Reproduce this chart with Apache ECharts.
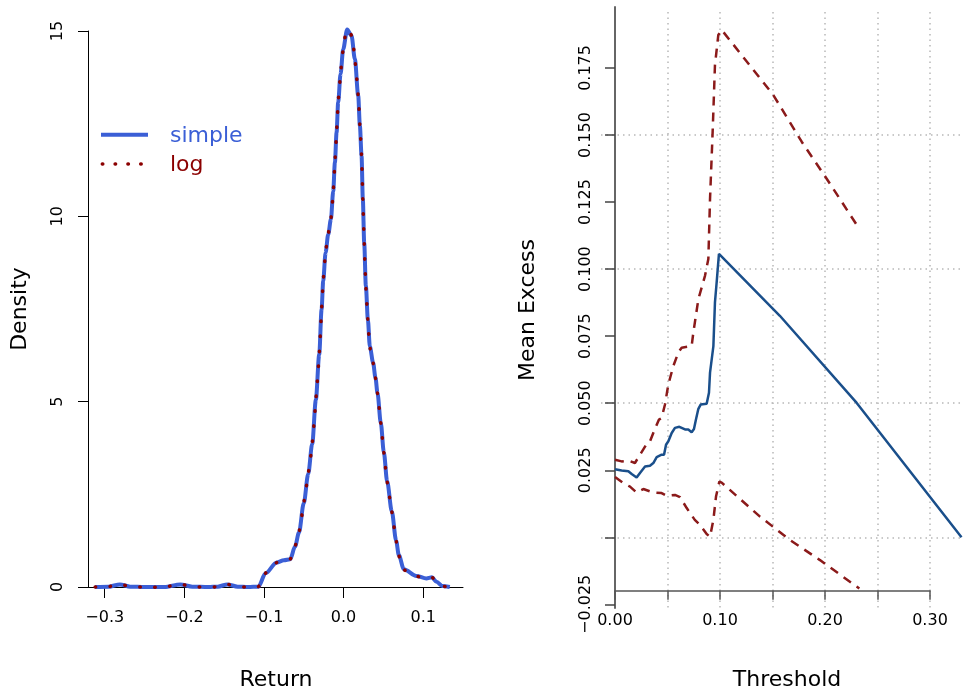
<!DOCTYPE html>
<html>
<head>
<meta charset="utf-8">
<script src="https://cdn.jsdelivr.net/npm/echarts@6/dist/echarts.min.js"></script>
<style>html,body{margin:0;padding:0;background:#fff}#c{width:964px;height:691px}</style>
</head>
<body>
<div id="c"></div>
<script>
// ---- Left panel: density of returns ----
const returnX = [-0.312,-0.295,-0.281,-0.268,-0.25,-0.225,-0.205,-0.19,-0.17,-0.158,-0.146,-0.133,-0.12,-0.107,-0.098,-0.084,-0.075,-0.067,-0.061,-0.056,-0.050,-0.0444,-0.0394,-0.0348,-0.0306,-0.0276,-0.0256,-0.0226,-0.0193,-0.0159,-0.0130,-0.0109,-0.0088,-0.0068,-0.0038,-0.0005,0.0045,0.010,0.0142,0.0184,0.0205,0.0226,0.0242,0.0259,0.028,0.0305,0.033,0.0371,0.0401,0.0426,0.0468,0.0506,0.0547,0.0606,0.066,0.0694,0.0757,0.0915,0.104,0.111,0.1167,0.124,0.1334];
const simpleDensity = [0,0.01,0.07,0.01,0,0,0.07,0.01,0,0.01,0.07,0.01,0,0.01,0.37,0.66,0.72,0.75,1.09,1.47,2.26,3.05,3.86,5.05,6.27,7.49,8.25,9.02,9.51,9.92,10.68,11.45,12.26,13.07,13.84,14.51,15.04,14.87,14.24,13.25,12.44,11.63,10.46,9.29,8.12,7.22,6.49,6.05,5.64,5.23,4.42,3.63,2.85,2.04,1.25,0.86,0.48,0.30,0.23,0.26,0.14,0.03,0];
const logDensity = [0,0.01,0.07,0.01,0,0,0.07,0.01,0,0.01,0.07,0.01,0,0.01,0.37,0.66,0.72,0.75,1.09,1.47,2.26,3.05,3.86,5.05,6.27,7.49,8.25,9.02,9.51,9.92,10.68,11.45,12.26,13.07,13.84,14.51,15.04,14.87,14.24,13.25,12.44,11.63,10.46,9.29,8.12,7.22,6.49,6.05,5.64,5.23,4.42,3.63,2.85,2.04,1.25,0.86,0.48,0.30,0.23,0.26,0.14,0.03,0];
const returnTicks = [-0.3,-0.2,-0.1,0,0.1];
const legendNames = ['simple', 'log'];

// ---- Right panel: mean excess plot ----
const meThreshold = [0,0.0063,0.0127,0.0159,0.0206,0.0238,0.0286,0.0333,0.0365,0.0397,0.0444,0.0467,0.0486,0.0508,0.054,0.0571,0.0613,0.0667,0.0698,0.073,0.0752,0.0771,0.0794,0.0816,0.0873,0.0895,0.0905,0.0937,0.0952,0.0968,0.099,0.157,0.2302,0.330];
const meValue = [0.0254,0.0249,0.0246,0.0236,0.0223,0.0240,0.0264,0.0267,0.0277,0.0299,0.0308,0.0308,0.0345,0.0358,0.0389,0.0408,0.0412,0.0402,0.0402,0.0392,0.0404,0.0439,0.0479,0.0495,0.0498,0.0539,0.0614,0.0713,0.0876,0.095,0.1057,0.0826,0.0501,0.000];
const upThreshold = [0,0.0063,0.0127,0.019,0.0238,0.0308,0.0333,0.0371,0.0419,0.0444,0.0476,0.0508,0.0556,0.0603,0.0635,0.073,0.0746,0.0794,0.0857,0.0889,0.0905,0.093,0.0952,0.0984,0.1016,0.1508,0.1778,0.2016,0.2327];
const upValue = [0.0289,0.0283,0.0286,0.0277,0.0308,0.0352,0.0358,0.0395,0.0439,0.0445,0.0495,0.0570,0.0639,0.0689,0.0707,0.0713,0.0763,0.0888,0.0975,0.1038,0.1262,0.1512,0.1761,0.1873,0.1892,0.1649,0.1475,0.1337,0.115];
const loThreshold = [0,0.0079,0.0143,0.0206,0.027,0.0365,0.0444,0.0492,0.0571,0.0619,0.0683,0.076,0.081,0.0873,0.0905,0.0937,0.0962,0.0994,0.1016,0.1381,0.1667,0.1952,0.2327];
const loValue = [0.0225,0.0202,0.0189,0.0167,0.018,0.0167,0.0165,0.0155,0.0158,0.015,0.0109,0.0065,0.0046,0.0012,0.0002,0.0065,0.0152,0.0208,0.0204,0.0077,-0.001,-0.0085,-0.0191];
const meTicks = [-0.025,0,0.025,0.05,0.075,0.1,0.125,0.15,0.175];
const meLabelTicks = [-0.025,0.025,0.05,0.075,0.1,0.125,0.15,0.175];

const FONT = 'DejaVu Sans';
const BLUE = '#3b5fd6', DARKRED = '#8b0000', ME_BLUE = '#1a4f8b', CI_RED = '#8b1a1a';
const zip = (a, b) => a.map((v, i) => [v, b[i]]);
const minus = s => s.replace('-', '\u2212');
const gridDot = {color: '#b8b8b8', width: 1.5, type: [1.5, 4]};
const txt = (text, x, y, rot, color) => ({type: 'text', x, y, rotation: rot || 0, silent: true,
  style: {text, font: '22px "DejaVu Sans"', fill: color || '#000', align: rot ? 'center' : (color ? 'left' : 'center'), verticalAlign: 'middle'}});

// dotted curve drawn as one continuous polyline so the dot pattern runs along its whole length
function dottedCurve(params, api) {
  if (params.dataIndexInside !== 0) return null;
  const pts = [];
  for (let i = 0; i < params.dataInsideLength; i++) {
    pts.push(api.coord([api.value(0, i), api.value(1, i)]));
  }
  return {type: 'polyline', silent: true, shape: {points: pts, smooth: 0.3},
    style: {stroke: DARKRED, fill: null, lineWidth: 3.5, lineDash: [0.5, 14.5], lineCap: 'round'}};
}

const chart = echarts.init(document.getElementById('c'), null, {renderer: 'canvas'});
chart.setOption({
  animation: false,
  backgroundColor: '#fff',
  grid: [
    {left: 88, top: 31, width: 375, height: 556},            // 0 left density
    {left: 615, top: 7, right: 0, height: 601},               // 1 right data
    {left: 601, top: 135, right: 0, height: 402.3},           // 2 horizontal grid lines
    {left: 667.5, top: 12, width: 262.5, height: 598},        // 3 vertical grid lines
    {left: 615, top: 580, width: 315, height: 10.7}           // 4 threshold axis
  ],
  xAxis: [
    {gridIndex: 0, type: 'value', min: -0.321, max: 0.150,
     axisLine: {show: true, onZero: false, lineStyle: {color: '#000', width: 1}},
     axisTick: {show: true, length: 11, customValues: returnTicks, lineStyle: {color: '#000'}},
     axisLabel: {show: true, customValues: returnTicks, margin: 23, fontSize: 16, fontFamily: FONT, color: '#000',
       formatter: v => minus(Number(v).toFixed(1))},
     splitLine: {show: false}},
    {gridIndex: 1, type: 'value', min: 0, max: 0.33238, show: false},
    {gridIndex: 2, type: 'value', min: 0, max: 1, show: false},
    {gridIndex: 3, type: 'value', min: 0.05, max: 0.30, interval: 0.05,
     axisLine: {show: false}, axisTick: {show: false}, axisLabel: {show: false},
     splitLine: {show: true, lineStyle: gridDot}},
    {gridIndex: 4, type: 'value', min: 0, max: 0.30, interval: 0.05,
     axisLine: {show: true, onZero: false, lineStyle: {color: '#555', width: 1.5}},
     axisTick: {show: true, length: 9, lineStyle: {color: '#555', width: 1.5}},
     axisLabel: {show: true, margin: 22, fontSize: 16, fontFamily: FONT, color: '#000',
       formatter: v => (Math.round(v * 100) % 10 === 0 ? Number(v).toFixed(2) : '')},
     splitLine: {show: false}}
  ],
  yAxis: [
    {gridIndex: 0, type: 'value', min: 0, max: 15, interval: 5,
     axisLine: {show: true, onZero: false, lineStyle: {color: '#000', width: 1}},
     axisTick: {show: true, length: 10, lineStyle: {color: '#000'}},
     axisLabel: {show: true, rotate: 90, margin: 22, fontSize: 16, fontFamily: FONT, color: '#000'},
     splitLine: {show: false}},
    {gridIndex: 1, type: 'value', min: -0.02636, max: 0.19773,
     axisLine: {show: true, onZero: false, lineStyle: {color: '#666', width: 2}},
     axisTick: {show: true, length: 10, customValues: meTicks, lineStyle: {color: '#444', width: 1.5}},
     axisLabel: {show: true, customValues: meLabelTicks, rotate: 90, margin: 21, fontSize: 16, fontFamily: FONT, color: '#000',
       formatter: v => minus(Number(v).toFixed(3))},
     splitLine: {show: false}},
    {gridIndex: 2, type: 'value', min: 0, max: 0.15, interval: 0.05,
     axisLine: {show: false}, axisTick: {show: false}, axisLabel: {show: false},
     splitLine: {show: true, lineStyle: gridDot}},
    {gridIndex: 3, type: 'value', min: 0, max: 1, show: false},
    {gridIndex: 4, type: 'value', min: 0, max: 1, show: false}
  ],
  graphic: [
    txt('Return', 276, 680),
    txt('Density', 20, 309, Math.PI / 2),
    txt('Threshold', 787, 680),
    txt('Mean Excess', 528, 310, Math.PI / 2),
    // legend
    {type: 'line', silent: true, shape: {x1: 101, y1: 134.7, x2: 148, y2: 134.7}, style: {stroke: BLUE, lineWidth: 4}},
    {type: 'line', silent: true, shape: {x1: 102.3, y1: 164, x2: 142, y2: 164}, style: {stroke: DARKRED, lineWidth: 3.5, lineDash: [0.5, 12.3], lineCap: 'round'}},
    txt(legendNames[0], 170, 136.5, 0, BLUE),
    txt(legendNames[1], 170, 165.5, 0, DARKRED)
  ],
  series: [
    {name: legendNames[0], type: 'line', xAxisIndex: 0, yAxisIndex: 0, data: zip(returnX, simpleDensity),
     symbol: 'none', smooth: 0.3, smoothMonotone: 'x', clip: false,
     lineStyle: {color: BLUE, width: 4}, z: 3},
    {name: legendNames[1], type: 'custom', xAxisIndex: 0, yAxisIndex: 0, data: zip(returnX, logDensity),
     encode: {x: 0, y: 1}, clip: false, renderItem: dottedCurve, z: 4},
    {name: 'mean excess', type: 'line', xAxisIndex: 1, yAxisIndex: 1, data: zip(meThreshold, meValue),
     symbol: 'none', lineStyle: {color: ME_BLUE, width: 2.5}, z: 4},
    {name: 'upper', type: 'line', xAxisIndex: 1, yAxisIndex: 1, data: zip(upThreshold, upValue),
     symbol: 'none', lineStyle: {color: CI_RED, width: 2.5, type: [9, 7]}, z: 3},
    {name: 'lower', type: 'line', xAxisIndex: 1, yAxisIndex: 1, data: zip(loThreshold, loValue),
     symbol: 'none', lineStyle: {color: CI_RED, width: 2.5, type: [9, 7]}, z: 3}
  ]
});
</script>
</body>
</html>
